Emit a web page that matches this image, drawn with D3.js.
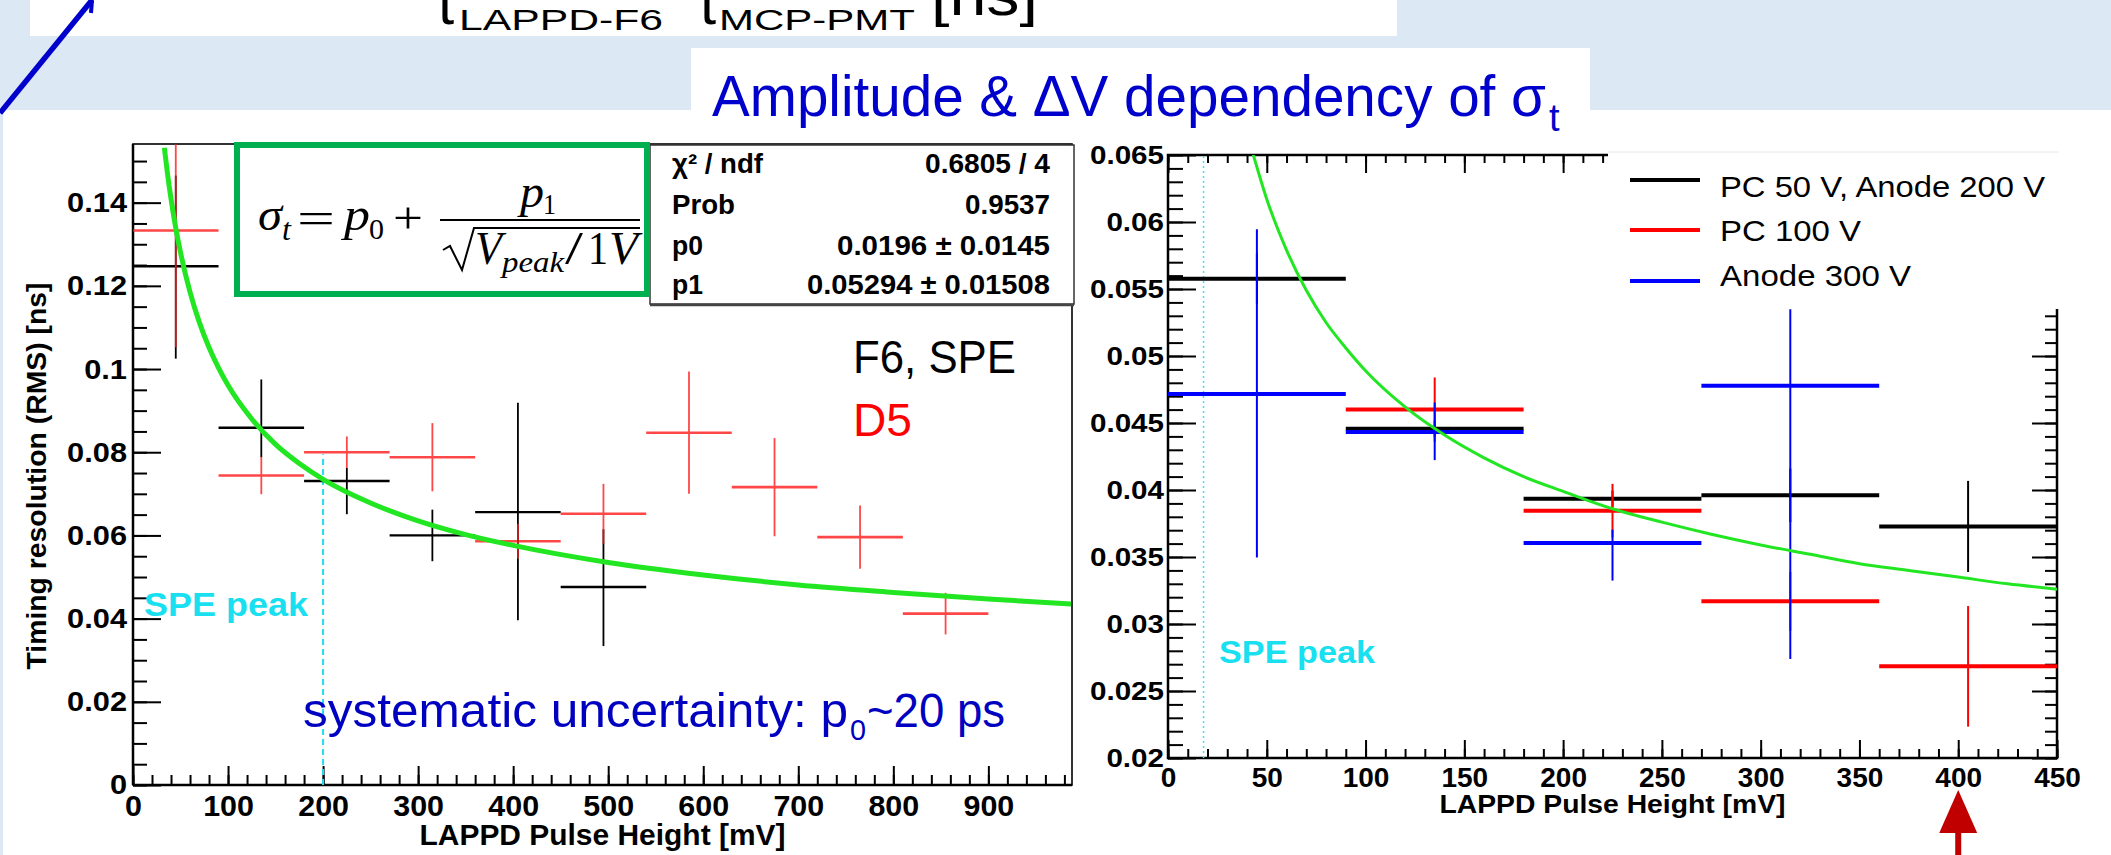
<!DOCTYPE html>
<html><head><meta charset="utf-8">
<script src="https://cdn.jsdelivr.net/npm/d3@7"></script>
<style>html,body{margin:0;padding:0;background:#dde8f5;overflow:hidden}</style>
</head><body><svg id="c" width="2111" height="855" xmlns="http://www.w3.org/2000/svg"></svg>
<script>
// ---------------- DATA ----------------
const binHalfWidth = 45; // bins of 90 mV

// Left plot: F6, SPE (black) and D5 (red)
const leftBlackX  = [45, 135, 225, 315, 405, 495];
const leftBlackY  = [0.1247, 0.0859, 0.0731, 0.0600, 0.0656, 0.0476];
const leftBlackLo = [0.0222, 0.0071, 0.0080, 0.0062, 0.0260, 0.0142];
const leftBlackHi = [0.0218, 0.0116, 0.0031, 0.0062, 0.0263, 0.0139];

const leftRedX   = [45, 135, 225, 315, 405, 495, 585, 675, 765, 855];
const leftRedY   = [0.1333, 0.0744, 0.0800, 0.0788, 0.0586, 0.0652, 0.0847, 0.0716, 0.0596, 0.0412];
const leftRedErr = [0.0281, 0.0045, 0.0038, 0.0082, 0.0042, 0.0072, 0.0147, 0.0118, 0.0076, 0.0050];

// fit curve drawn in the left plot
const leftFitX = [33, 36, 40, 45, 50, 60, 70, 80, 90, 100, 125, 150, 175, 200, 250, 300, 350, 400, 500, 600, 700, 800, 900, 987];
const leftFitY = [0.1532, 0.1475, 0.1409, 0.1339, 0.1280, 0.1185, 0.1111, 0.1052, 0.1003, 0.0961, 0.0880, 0.0819, 0.0773, 0.0735, 0.0678, 0.0635, 0.0602, 0.0576, 0.0535, 0.0505, 0.0481, 0.0463, 0.0447, 0.0435];

const leftXTicks  = [0, 100, 200, 300, 400, 500, 600, 700, 800, 900];
const leftXLabels = ["0", "100", "200", "300", "400", "500", "600", "700", "800", "900"];
const leftYTicks  = [0, 0.02, 0.04, 0.06, 0.08, 0.1, 0.12, 0.14];
const leftYLabels = ["0", "0.02", "0.04", "0.06", "0.08", "0.1", "0.12", "0.14"];
const leftSpePeak = 200;
const leftSpeLineTop = 0.0795;

const statsLabels = ["χ² / ndf", "Prob", "p0", "p1"];
const statsValues = ["0.6805 / 4", "0.9537", "0.0196  ± 0.0145", "0.05294  ± 0.01508"];

// Right plot
const rightBlackX  = [45, 135, 225, 315, 405];
const rightBlackY  = [0.05577, 0.04457, 0.03935, 0.0396, 0.03728];
const rightBlackErr = [0.0019, 0.0006, 0.0006, 0.0020, 0.0034];

const rightRedX   = [135, 225, 315, 405];
const rightRedY   = [0.0460, 0.03846, 0.03169, 0.02684];
const rightRedErr = [0.0024, 0.0020, 0.0022, 0.0045];

const rightBlueX  = [45, 135, 225, 315];
const rightBlueY  = [0.04716, 0.04433, 0.03604, 0.04778];
const rightBlueLo = [0.0122, 0.0021, 0.0028, 0.0204];
const rightBlueHi = [0.0123, 0.0022, 0.0010, 0.0057];

const rightFitX = [43, 50, 60, 70, 80, 90, 100, 120, 140, 160, 180, 200, 225, 250, 275, 300, 325, 350, 375, 400, 425, 450];
const rightFitY = [0.0651, 0.0617, 0.0579, 0.0549, 0.0525, 0.0506, 0.0489, 0.0462, 0.0441, 0.0424, 0.0410, 0.0399, 0.0386, 0.0376, 0.0367, 0.0359, 0.0352, 0.0345, 0.0340, 0.0335, 0.0330, 0.0326];

const rightXTicks  = [0, 50, 100, 150, 200, 250, 300, 350, 400, 450];
const rightXLabels = ["0", "50", "100", "150", "200", "250", "300", "350", "400", "450"];
const rightYTicks  = [0.02, 0.025, 0.03, 0.035, 0.04, 0.045, 0.05, 0.055, 0.06, 0.065];
const rightYLabels = ["0.02", "0.025", "0.03", "0.035", "0.04", "0.045", "0.05", "0.055", "0.06", "0.065"];
const rightSpePeak = 18;
const legendLabels = ["PC 50 V, Anode 200 V", "PC 100 V", "Anode 300 V"];
const legendColors = ["#000000", "#ff0000", "#0000ff"];
const arrowAt = 400;

// ---------------- DRAWING ----------------
const SANS = "'Liberation Sans', Arial, Helvetica, sans-serif";
const SERIF = "'Liberation Serif', 'Times New Roman', serif";
const svg = d3.select("#c");

function T(g, o) {
  const t = g.append("text").attr("x", o.x).attr("y", o.y)
    .attr("font-family", o.f || SANS).attr("font-size", o.s).attr("fill", o.c || "#000");
  if (o.w) t.attr("font-weight", o.w);
  if (o.i) t.attr("font-style", "italic");
  if (o.a) t.attr("text-anchor", o.a);
  if (o.len) t.attr("textLength", o.len).attr("lengthAdjust", "spacingAndGlyphs");
  if (o.tr) t.attr("transform", o.tr);
  t.text(o.t);
  return t;
}

// slide background
svg.append("rect").attr("width", 2111).attr("height", 855).attr("fill", "#dde8f5");
svg.append("rect").attr("x", 30).attr("y", 0).attr("width", 1367).attr("height", 36).attr("fill", "#fff");
svg.append("rect").attr("x", 3).attr("y", 110).attr("width", 2108).attr("height", 745).attr("fill", "#fff");
svg.append("rect").attr("x", 691).attr("y", 48).attr("width", 899).attr("height", 67).attr("fill", "#fff");

// top (clipped by the page edge, as in the slide) slide text
const topG = svg.append("g");
T(topG, {x: 438, y: 24, s: 58, t: "t"});
T(topG, {x: 459, y: 30, s: 29, t: "LAPPD-F6", len: 204});
T(topG, {x: 700, y: 24, s: 58, t: "t"});
T(topG, {x: 719, y: 30, s: 29, t: "MCP-PMT", len: 196});
T(topG, {x: 931, y: 15, s: 58, t: "[ns]", len: 107});

// blue diagonal arrow line
svg.append("path").attr("d", "M0,113 L92,0").attr("stroke", "#0000cc").attr("stroke-width", 5.5).attr("fill", "none");
svg.append("path").attr("d", "M92,0 L91,13").attr("stroke", "#0000cc").attr("stroke-width", 4).attr("fill", "none");

// title
T(svg, {x: 712, y: 116, s: 57, c: "#0000cc", t: "Amplitude & ΔV dependency of σ", len: 834});
T(svg, {x: 1549, y: 131, s: 38, c: "#0000cc", t: "t"});

// ================= LEFT PLOT =================
const xL = d3.scaleLinear().domain([0, 988]).range([133, 1072]);
const yL = d3.scaleLinear().domain([0, 0.1541]).range([785, 144]);
const L = svg.append("g");
L.append("clipPath").attr("id", "clipL").append("rect")
  .attr("x", xL(0)).attr("y", yL(0.1541)).attr("width", xL(988) - xL(0)).attr("height", yL(0) - yL(0.1541));

function styleAxis(g, size, stretch) {
  g.select(".domain").remove();
  g.attr("font-family", null).attr("font-size", null);
  g.selectAll(".tick line").attr("stroke", "#000").attr("stroke-width", 2);
  g.selectAll(".tick text").attr("font-family", SANS).attr("font-weight", "bold")
    .attr("font-size", size).attr("fill", "#000");
  if (stretch) {
    g.selectAll(".tick text").each(function () {
      const w = this.getComputedTextLength();
      if (w > 0) d3.select(this).attr("textLength", w * stretch).attr("lengthAdjust", "spacingAndGlyphs");
    });
  }
}

// minor ticks
const lxMinor = L.append("g").attr("transform", `translate(0,${yL(0)})`)
  .call(d3.axisBottom(xL).tickValues(d3.range(0, 988, 20)).tickSize(-10).tickFormat(""));
styleAxis(lxMinor, 10);
const lyMinor = L.append("g").attr("transform", `translate(${xL(0)},0)`)
  .call(d3.axisLeft(yL).tickValues(d3.range(0, 0.1541, 0.005)).tickSize(-14).tickFormat(""));
styleAxis(lyMinor, 10);
// major ticks
const lx = L.append("g").attr("transform", `translate(0,${yL(0)})`)
  .call(d3.axisBottom(xL).tickValues(leftXTicks).tickSize(-19).tickPadding(10).tickFormat((d, i) => leftXLabels[i]));
styleAxis(lx, 29, 1.05);
const ly = L.append("g").attr("transform", `translate(${xL(0)},0)`)
  .call(d3.axisLeft(yL).tickValues(leftYTicks).tickSize(-28).tickPadding(6).tickFormat((d, i) => leftYLabels[i]));
styleAxis(ly, 28, 1.1);

// frame
L.append("rect").attr("x", xL(0)).attr("y", yL(0.1541)).attr("width", xL(988) - xL(0))
  .attr("height", yL(0) - yL(0.1541)).attr("fill", "none").attr("stroke", "#000").attr("stroke-width", 1.6);
L.append("line").attr("x1", xL(0)).attr("x2", xL(988)).attr("y1", yL(0)).attr("y2", yL(0)).attr("stroke", "#000").attr("stroke-width", 2.5);
L.append("line").attr("x1", xL(0)).attr("x2", xL(0)).attr("y1", yL(0)).attr("y2", yL(0.1541)).attr("stroke", "#000").attr("stroke-width", 2.5);

// axis titles
T(L, {x: (xL(0) + xL(988)) / 2, y: 845, s: 29, w: "bold", a: "middle", t: "LAPPD Pulse Height [mV]", len: 366});
T(L, {x: 0, y: 0, s: 28, w: "bold", a: "middle", t: "Timing resolution (RMS) [ns]", len: 387, tr: "translate(46,476) rotate(-90)"});

const pl = L.append("g").attr("clip-path", "url(#clipL)");
// SPE peak line
pl.append("line").attr("x1", xL(leftSpePeak)).attr("x2", xL(leftSpePeak)).attr("y1", yL(0)).attr("y2", yL(leftSpeLineTop))
  .attr("stroke", "#20dcf0").attr("stroke-width", 2).attr("stroke-dasharray", "6,4");

function bars(g, xs, ys, lo, hi, x, y, color, hw, vw, op) {
  const d = xs.map((v, i) => ({x: v, y: ys[i], lo: lo[i], hi: hi[i]}));
  const gg = g.append("g").attr("opacity", op);
  gg.selectAll(null).data(d).join("line")
    .attr("x1", e => x(e.x - binHalfWidth)).attr("x2", e => x(e.x + binHalfWidth))
    .attr("y1", e => y(e.y)).attr("y2", e => y(e.y))
    .attr("stroke", color).attr("stroke-width", hw);
  gg.selectAll(null).data(d).join("line")
    .attr("x1", e => x(e.x)).attr("x2", e => x(e.x))
    .attr("y1", e => y(e.y - e.lo)).attr("y2", e => y(e.y + e.hi))
    .attr("stroke", color).attr("stroke-width", vw);
}
bars(pl, leftBlackX, leftBlackY, leftBlackLo, leftBlackHi, xL, yL, "#000", 2.4, 1.8, 1);
bars(pl, leftRedX, leftRedY, leftRedErr, leftRedErr, xL, yL, "#ff1a1a", 2.6, 1.8, 0.8);

const lineL = d3.line().x(d => xL(d[0])).y(d => yL(d[1])).curve(d3.curveMonotoneX);
pl.append("path").attr("d", lineL(leftFitX.map((v, i) => [v, leftFitY[i]])))
  .attr("fill", "none").attr("stroke", "#22e622").attr("stroke-width", 5);

// SPE label
T(L, {x: 144, y: 616, s: 33, w: "bold", c: "#18e0f0", t: "SPE peak", len: 164});

// systematic uncertainty
T(L, {x: 303, y: 727, s: 48, c: "#0000c0", t: "systematic uncertainty: p", len: 545});
T(L, {x: 850, y: 740, s: 30, c: "#0000c0", t: "0", len: 16});
T(L, {x: 867, y: 727, s: 48, c: "#0000c0", t: "~20 ps", len: 138});

// F6, SPE / D5
T(L, {x: 853, y: 373, s: 46, t: "F6, SPE", len: 163});
T(L, {x: 853, y: 436, s: 46, c: "#ff0000", t: "D5", len: 59});

// stats box
L.append("rect").attr("x", 650).attr("y", 145).attr("width", 424).attr("height", 159)
  .attr("fill", "#fff").attr("stroke", "#333").attr("stroke-width", 1.5);
L.append("line").attr("x1", 650).attr("x2", 1074).attr("y1", 305).attr("y2", 305).attr("stroke", "#444").attr("stroke-width", 2.5);
const statsY = [173, 214, 255, 294];
const statsLabelLen = [91, 63, 31, 31];
const statsValueLen = [125, 85, 213, 243];
statsLabels.forEach((s, i) => T(L, {x: 672, y: statsY[i], s: 27, w: "bold", t: s, len: statsLabelLen[i]}));
statsValues.forEach((s, i) => T(L, {x: 1050, y: statsY[i], s: 27, w: "bold", a: "end", t: s, len: statsValueLen[i]}));

// green formula box
L.append("rect").attr("x", 237).attr("y", 145).attr("width", 410).attr("height", 149)
  .attr("fill", "#fff").attr("stroke", "#00b050").attr("stroke-width", 6);
const F = L.append("g");
T(F, {x: 258, y: 230, s: 46, i: true, f: SERIF, t: "σ", len: 24});
T(F, {x: 282, y: 240, s: 32, i: true, f: SERIF, t: "t"});
T(F, {x: 297, y: 233, s: 44, f: SERIF, t: "=", len: 38});
T(F, {x: 344, y: 230, s: 46, i: true, f: SERIF, t: "p", len: 26});
T(F, {x: 369, y: 239, s: 30, f: SERIF, t: "0", len: 15});
T(F, {x: 393, y: 233, s: 44, f: SERIF, t: "+", len: 30});
T(F, {x: 520, y: 207, s: 46, i: true, f: SERIF, t: "p", len: 24});
T(F, {x: 543, y: 214, s: 30, f: SERIF, t: "1", len: 13});
F.append("line").attr("x1", 440).attr("x2", 640).attr("y1", 220).attr("y2", 220).attr("stroke", "#000").attr("stroke-width", 2);
F.append("path").attr("d", "M443,250 L450,246 L462,270 L474,228 L640,228").attr("fill", "none").attr("stroke", "#000").attr("stroke-width", 2);
T(F, {x: 475, y: 264, s: 46, i: true, f: SERIF, t: "V", len: 27});
T(F, {x: 502, y: 272, s: 30, i: true, f: SERIF, t: "peak", len: 62});
T(F, {x: 565, y: 264, s: 46, f: SERIF, t: "/", len: 18});
T(F, {x: 588, y: 264, s: 46, f: SERIF, t: "1", len: 20});
T(F, {x: 609, y: 264, s: 46, i: true, f: SERIF, t: "V", len: 29});

// ================= RIGHT PLOT =================
const xR = d3.scaleLinear().domain([0, 450]).range([1168, 2057]);
const yR = d3.scaleLinear().domain([0.02, 0.065]).range([758, 155]);
const R = svg.append("g");
R.append("clipPath").attr("id", "clipR").append("rect")
  .attr("x", xR(0)).attr("y", yR(0.065)).attr("width", xR(450) - xR(0)).attr("height", yR(0.02) - yR(0.065));

const rxMinor = R.append("g").attr("transform", `translate(0,${yR(0.02)})`)
  .call(d3.axisBottom(xR).tickValues(d3.range(0, 451, 10)).tickSize(-9).tickFormat(""));
styleAxis(rxMinor, 10);
const rxMinorTop = R.append("g").attr("transform", `translate(0,${yR(0.065)})`)
  .call(d3.axisTop(xR).tickValues(d3.range(0, 451, 10)).tickSize(-8).tickFormat(""));
styleAxis(rxMinorTop, 10);
const ryMinor = R.append("g").attr("transform", `translate(${xR(0)},0)`)
  .call(d3.axisLeft(yR).tickValues(d3.range(0.02, 0.0651, 0.001)).tickSize(-15).tickFormat(""));
styleAxis(ryMinor, 10);
const ryMinorR = R.append("g").attr("transform", `translate(${xR(450)},0)`)
  .call(d3.axisRight(yR).tickValues(d3.range(0.02, 0.0651, 0.001)).tickSize(-12).tickFormat(""));
styleAxis(ryMinorR, 10);

const rx = R.append("g").attr("transform", `translate(0,${yR(0.02)})`)
  .call(d3.axisBottom(xR).tickValues(rightXTicks).tickSize(-18).tickPadding(9).tickFormat((d, i) => rightXLabels[i]));
styleAxis(rx, 28);
const rxTop = R.append("g").attr("transform", `translate(0,${yR(0.065)})`)
  .call(d3.axisTop(xR).tickValues(rightXTicks).tickSize(-18).tickFormat(""));
styleAxis(rxTop, 10);
const ry = R.append("g").attr("transform", `translate(${xR(0)},0)`)
  .call(d3.axisLeft(yR).tickValues(rightYTicks).tickSize(-28).tickPadding(4).tickFormat((d, i) => rightYLabels[i]));
styleAxis(ry, 25.5, 1.16);
const ryR = R.append("g").attr("transform", `translate(${xR(450)},0)`)
  .call(d3.axisRight(yR).tickValues(rightYTicks).tickSize(-25).tickFormat(""));
styleAxis(ryR, 10);

R.append("rect").attr("x", xR(0)).attr("y", yR(0.065)).attr("width", xR(450) - xR(0))
  .attr("height", yR(0.02) - yR(0.065)).attr("fill", "none").attr("stroke", "#000").attr("stroke-width", 2.5);

T(R, {x: (xR(0) + xR(450)) / 2, y: 813, s: 26, w: "bold", a: "middle", t: "LAPPD Pulse Height [mV]", len: 346});

const pr = R.append("g").attr("clip-path", "url(#clipR)");
pr.append("line").attr("x1", xR(rightSpePeak)).attr("x2", xR(rightSpePeak)).attr("y1", yR(0.02)).attr("y2", yR(0.065))
  .attr("stroke", "#40e0f0").attr("stroke-width", 1.5).attr("stroke-dasharray", "2,3");
bars(pr, rightBlackX, rightBlackY, rightBlackErr, rightBlackErr, xR, yR, "#000", 4, 2, 1);
bars(pr, rightRedX, rightRedY, rightRedErr, rightRedErr, xR, yR, "#ff0000", 4, 2, 1);
bars(pr, rightBlueX, rightBlueY, rightBlueLo, rightBlueHi, xR, yR, "#0000ff", 4, 2, 1);

const lineR = d3.line().x(d => xR(d[0])).y(d => yR(d[1])).curve(d3.curveMonotoneX);
pr.append("path").attr("d", lineR(rightFitX.map((v, i) => [v, rightFitY[i]])))
  .attr("fill", "none").attr("stroke", "#22e622").attr("stroke-width", 3);

T(R, {x: 1219, y: 663, s: 32, w: "bold", c: "#18e0f0", t: "SPE peak", len: 156});

// legend
R.append("rect").attr("x", 1608).attr("y", 146).attr("width", 452).attr("height", 163).attr("fill", "#fff");
R.append("line").attr("x1", 1608).attr("x2", 2059).attr("y1", 152).attr("y2", 152).attr("stroke", "#e8e8e8").attr("stroke-width", 1);
const legLineY = [180, 230, 281];
const legTextY = [197, 241, 286];
const legLen = [325, 141, 191];
legendLabels.forEach((s, i) => {
  R.append("line").attr("x1", 1630).attr("x2", 1700).attr("y1", legLineY[i]).attr("y2", legLineY[i])
    .attr("stroke", legendColors[i]).attr("stroke-width", 4);
  T(R, {x: 1720, y: legTextY[i], s: 29, t: s, len: legLen[i]});
});

// red arrow pointing at 400 mV
const ax = xR(arrowAt);
svg.append("path").attr("d", `M${ax},790 L${ax - 19},833 L${ax + 19},833 Z`).attr("fill", "#c00000");
svg.append("rect").attr("x", ax - 3).attr("y", 832).attr("width", 6).attr("height", 23).attr("fill", "#c00000");
</script>
</body></html>
